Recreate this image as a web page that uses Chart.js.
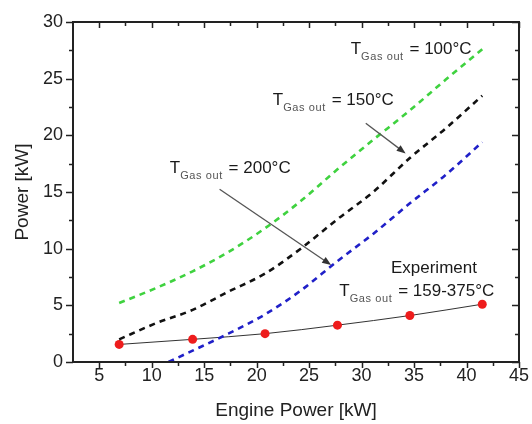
<!DOCTYPE html>
<html>
<head>
<meta charset="utf-8">
<script src="https://cdn.jsdelivr.net/npm/chart.js@4/dist/chart.umd.min.js"></script>
<style>
  html, body { margin: 0; padding: 0; background: #fff; }
  #wrap { width: 532px; height: 424px; }
</style>
</head>
<body>
<div id="wrap"><canvas id="c" width="532" height="424"></canvas></div>
<script>
// ---- data ----
const xEngine = [6.9, 13.9, 20.8, 27.7, 34.6, 41.5];
const expPower = [1.55, 2.0, 2.5, 3.25, 4.1, 5.1];

const xModel = [6.9, 10.35, 13.9, 17.3, 20.8, 24.2, 27.7, 31.1, 34.6, 38.0, 41.5];
const p100 = [5.2, 6.5, 8.0, 9.7, 11.8, 14.2, 17.0, 19.6, 22.2, 24.9, 27.6];
const p150 = [2.0, 3.4, 4.6, 6.2, 7.8, 10.0, 12.6, 15.0, 18.0, 20.6, 23.5];
const xModel200 = [11.6, 13.9, 17.3, 20.8, 24.2, 27.7, 31.1, 34.6, 38.0, 41.5];
const p200 = [0, 1.0, 2.5, 4.2, 6.3, 8.9, 11.3, 14.0, 16.5, 19.4];

const xTicks = [5, 10, 15, 20, 25, 30, 35, 40, 45];
const yTicks = [0, 5, 10, 15, 20, 25, 30];

const xTitle = 'Engine Power [kW]';
const yTitle = 'Power [kW]';

// annotation labels: [x, y (baseline), pre-sub main, subscript, rest]
const labels = [
  { x: 28.96, y: 27.2, main: 'T', sub: 'Gas out', rest: ' = 100°C' },
  { x: 21.54, y: 22.68, main: 'T', sub: 'Gas out', rest: ' = 150°C' },
  { x: 11.72, y: 16.65, main: 'T', sub: 'Gas out', rest: ' = 200°C' },
  { x: 27.88, y: 5.83, main: 'T', sub: 'Gas out', rest: ' = 159-375°C' },
  { x: 32.8, y: 7.83, main: 'Experiment', sub: '', rest: '' }
];
// arrows: from (x1,y1) to (x2,y2) in data units
const arrows = [
  { x1: 30.4, y1: 21.07, x2: 34.2, y2: 18.4 },
  { x1: 16.47, y1: 15.24, x2: 27.1, y2: 8.56 }
];

const FONT = '"Liberation Sans", Arial, sans-serif';

function pts(xs, ys) { return xs.map((x, i) => ({ x: x, y: ys[i] })); }

const framePlugin = {
  id: 'frame',
  beforeDraw(chart) {
    const ctx = chart.ctx;
    ctx.save();
    ctx.fillStyle = '#fff';
    ctx.fillRect(0, 0, chart.width, chart.height);
    ctx.restore();
  },
  afterDatasetsDraw(chart) {
    const ctx = chart.ctx;
    const xs = chart.scales.x, ys = chart.scales.y;
    // arrows
    ctx.save();
    ctx.strokeStyle = '#555';
    ctx.fillStyle = '#333';
    ctx.lineWidth = 1.3;
    arrows.forEach(a => {
      const x1 = xs.getPixelForValue(a.x1), y1 = ys.getPixelForValue(a.y1);
      const x2 = xs.getPixelForValue(a.x2), y2 = ys.getPixelForValue(a.y2);
      const ang = Math.atan2(y2 - y1, x2 - x1);
      const L = 9, W = 3.5;
      ctx.beginPath();
      ctx.moveTo(x1, y1);
      ctx.lineTo(x2 - Math.cos(ang) * L * 0.8, y2 - Math.sin(ang) * L * 0.8);
      ctx.stroke();
      ctx.beginPath();
      ctx.moveTo(x2, y2);
      ctx.lineTo(x2 - Math.cos(ang) * L - Math.sin(ang) * W, y2 - Math.sin(ang) * L + Math.cos(ang) * W);
      ctx.lineTo(x2 - Math.cos(ang) * L + Math.sin(ang) * W, y2 - Math.sin(ang) * L - Math.cos(ang) * W);
      ctx.closePath();
      ctx.fill();
    });
    // labels
    ctx.textBaseline = 'alphabetic';
    ctx.textAlign = 'left';
    labels.forEach(l => {
      let x = xs.getPixelForValue(l.x);
      const y = ys.getPixelForValue(l.y);
      ctx.font = '17px ' + FONT;
      ctx.fillStyle = '#1a1a1a';
      ctx.fillText(l.main, x, y);
      x += ctx.measureText(l.main).width;
      if (l.sub) {
        ctx.font = '11px ' + FONT;
        ctx.fillStyle = '#555';
        ctx.letterSpacing = '0.6px';
        ctx.fillText(l.sub, x, y + 6);
        x += ctx.measureText(l.sub).width + 1;
        ctx.letterSpacing = '0px';
      }
      if (l.rest) {
        ctx.font = '17px ' + FONT;
        ctx.fillStyle = '#1a1a1a';
        ctx.fillText(l.rest, x, y);
      }
    });
    ctx.restore();
  },
  afterDraw(chart) {
    const ctx = chart.ctx;
    const a = chart.chartArea;
    const xs = chart.scales.x, ys = chart.scales.y;
    ctx.save();
    ctx.strokeStyle = '#222';
    ctx.lineWidth = 2;
    ctx.strokeRect(a.left, a.top, a.right - a.left, a.bottom - a.top);
    ctx.lineWidth = 1.5;
    ctx.beginPath();
    // x ticks (bottom outward, top inward)
    for (let v = 2.5; v <= 45.001; v += 2.5) {
      if (v === 2.5) continue;
      const px = Math.round(xs.getPixelForValue(v)) + 0.5;
      const major = Math.abs(v / 5 - Math.round(v / 5)) < 1e-6;
      const len = major ? 6 : 4;
      ctx.moveTo(px, a.bottom); ctx.lineTo(px, a.bottom + len);
      ctx.moveTo(px, a.top); ctx.lineTo(px, a.top + len);
    }
    // y ticks (left outward, right inward)
    for (let v = 0; v <= 30.001; v += 2.5) {
      const py = Math.round(ys.getPixelForValue(v)) + 0.5;
      const major = Math.abs(v / 5 - Math.round(v / 5)) < 1e-6;
      const len = major ? 7 : 4;
      ctx.moveTo(a.left - len, py); ctx.lineTo(a.left, py);
      ctx.moveTo(a.right, py); ctx.lineTo(a.right - len, py);
    }
    ctx.stroke();
    ctx.restore();
  }
};

new Chart(document.getElementById('c'), {
  type: 'scatter',
  data: {
    datasets: [
      {
        label: 'T = 100°C',
        data: pts(xModel, p100),
        showLine: true,
        borderColor: '#3fd23f',
        borderWidth: 2.6,
        borderDash: [6, 5],
        pointRadius: 0,
        cubicInterpolationMode: 'monotone'
      },
      {
        label: 'T = 150°C',
        data: pts(xModel, p150),
        showLine: true,
        borderColor: '#111',
        borderWidth: 2.6,
        borderDash: [6, 5],
        pointRadius: 0,
        cubicInterpolationMode: 'monotone'
      },
      {
        label: 'T = 200°C',
        data: pts(xModel200, p200),
        showLine: true,
        borderColor: '#2020c8',
        borderWidth: 2.6,
        borderDash: [6, 5],
        pointRadius: 0,
        cubicInterpolationMode: 'monotone'
      },
      {
        label: 'Experiment',
        data: pts(xEngine, expPower),
        showLine: true,
        borderColor: '#333',
        borderWidth: 1,
        pointRadius: 4.5,
        pointBackgroundColor: '#ee1c1c',
        pointBorderWidth: 0,
        cubicInterpolationMode: 'monotone'
      }
    ]
  },
  options: {
    responsive: false,
    animation: false,
    events: [],
    layout: { padding: { left: 0, right: 12, top: 22, bottom: 0 } },
    plugins: { legend: { display: false }, tooltip: { enabled: false } },
    scales: {
      x: {
        type: 'linear',
        min: 2.5, max: 45,
        afterBuildTicks: s => { s.ticks = xTicks.map(v => ({ value: v })); },
        afterFit: s => { s.height = 62; },
        grid: { display: false, drawTicks: false },
        border: { display: false },
        ticks: { padding: 3, color: '#222', font: { family: FONT, size: 18 }, maxRotation: 0, autoSkip: false },
        title: { display: true, text: xTitle, color: '#222', font: { family: FONT, size: 19 }, padding: { top: 0, bottom: 2 } }
      },
      y: {
        type: 'linear',
        min: 0, max: 30,
        afterBuildTicks: s => { s.ticks = yTicks.map(v => ({ value: v })); },
        afterFit: s => { s.width = 73; },
        grid: { display: false, drawTicks: false },
        border: { display: false },
        ticks: { padding: 10, color: '#222', font: { family: FONT, size: 18 }, autoSkip: false },
        title: { display: true, text: yTitle, color: '#222', font: { family: FONT, size: 19 }, padding: { top: 11, bottom: 0 } }
      }
    }
  },
  plugins: [framePlugin]
});
</script>
</body>
</html>
